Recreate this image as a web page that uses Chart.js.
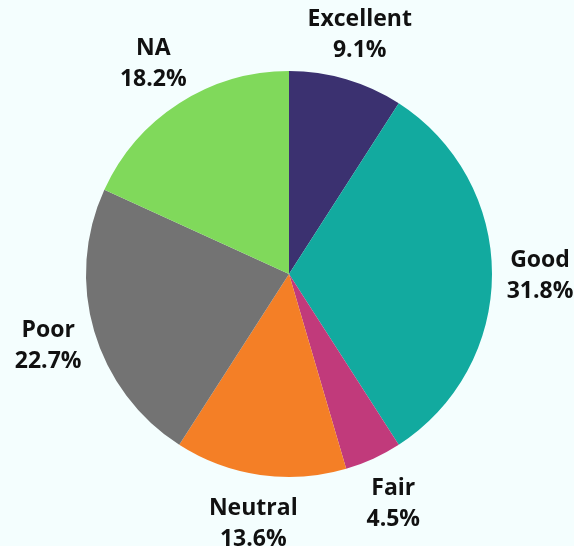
<!DOCTYPE html>
<html>
<head>
<meta charset="utf-8">
<script src="https://cdn.jsdelivr.net/npm/chart.js@4"></script>
<style>
  html, body { margin: 0; padding: 0; background: #f4fefe; }
  #wrap { width: 574px; height: 546px; }
</style>
</head>
<body>
<div id="wrap"><canvas id="pie"></canvas></div>
<script>
const categories = ["Excellent", "Good", "Fair", "Neutral", "Poor", "NA"];
const counts = [2, 7, 1, 3, 5, 4];
const sliceColors = ["#3b3170", "#12aa9f", "#c13a7b", "#f47f26", "#737373", "#80d95b"];

const total = counts.reduce((a, b) => a + b, 0);

// category name + percent, stacked, just outside each slice
const outsideLabels = {
  id: "outsideLabels",
  afterDatasetsDraw(chart) {
    const ctx = chart.ctx;
    const meta = chart.getDatasetMeta(0);
    ctx.save();
    ctx.fillStyle = "#111";
    ctx.font = "bold 23px 'Open Sans'";
    ctx.textAlign = "center";
    ctx.textBaseline = "middle";
    meta.data.forEach((arc, i) => {
      const mid = (arc.startAngle + arc.endAngle) / 2;
      const r = arc.outerRadius + 48;
      const x = arc.x + Math.cos(mid) * r;
      const y = arc.y + Math.sin(mid) * r;
      const pct = (counts[i] / total * 100).toFixed(1) + "%";
      ctx.fillText(categories[i], x, y - 14);
      ctx.fillText(pct, x, y + 17);
    });
    ctx.restore();
  }
};

new Chart(document.getElementById("pie"), {
  type: "pie",
  data: {
    labels: categories,
    datasets: [{
      data: counts,
      backgroundColor: sliceColors,
      borderWidth: 0
    }]
  },
  options: {
    responsive: true,
    maintainAspectRatio: false,
    animation: false,
    layout: { padding: { left: 86, right: 82, top: 71, bottom: 69 } },
    plugins: {
      legend: { display: false },
      tooltip: { enabled: false }
    }
  },
  plugins: [outsideLabels]
});
</script>
</body>
</html>
